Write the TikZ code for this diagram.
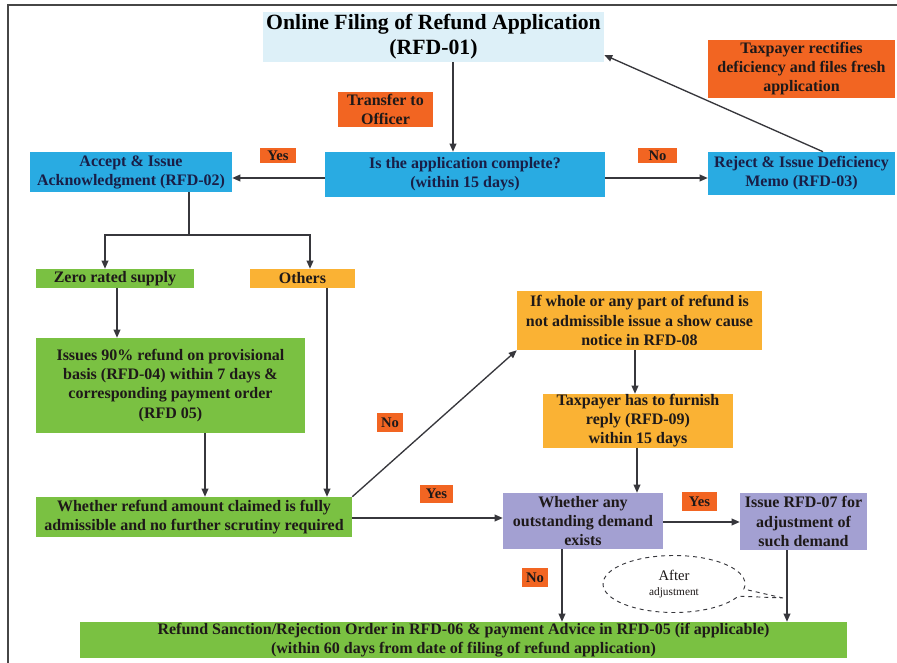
\documentclass[tikz,border=0pt]{standalone}
\usepackage{fontspec}
\setmainfont{Liberation Serif}
\usetikzlibrary{arrows.meta,shapes.callouts}
\definecolor{titlebg}{RGB}{221,240,248}
\definecolor{bluebox}{RGB}{41,171,226}
\definecolor{orangebox}{RGB}{242,101,34}
\definecolor{greenbox}{RGB}{122,193,66}
\definecolor{yellowbox}{RGB}{250,178,52}
\definecolor{purplebox}{RGB}{163,160,210}
\definecolor{linecol}{RGB}{55,55,60}
\definecolor{framecol}{RGB}{70,70,70}
\definecolor{txtdark}{RGB}{30,25,25}
\definecolor{txtnavy}{RGB}{25,30,70}
\newcommand\bodyf{\fontsize{12pt}{14.3pt}\selectfont\bfseries}
\newcommand\titlef{\fontsize{16.3pt}{18.8pt}\selectfont\bfseries}
\newcommand\labf{\fontsize{11pt}{12pt}\selectfont\bfseries}
\begin{document}
\begin{tikzpicture}[x=0.75pt,y=-0.75pt,
  pxsize/.style 2 args={minimum width=#1*0.75pt, minimum height=#2*0.75pt},
  box/.style={draw=none, inner sep=0pt, align=center, font=\bodyf, text=txtdark},
  bluenode/.style={box, fill=bluebox, text=txtnavy},
  greennode/.style={box, fill=greenbox},
  yellownode/.style={box, fill=yellowbox},
  purplenode/.style={box, fill=purplebox},
  orangenode/.style={box, fill=orangebox},
  lab/.style={box, fill=orangebox, font=\labf},
  arr/.style={draw=linecol, line width=1pt, -{Triangle[length=6pt,width=5pt]}},
  plain/.style={draw=linecol, line width=1pt}]
\useasboundingbox (0,0) rectangle (897,663);
\fill[white] (0,0) rectangle (897,663);
\draw[line width=2pt, draw=framecol] (8,663) -- (8,5) -- (897,5);

% nodes
\node[box, fill=titlebg, font=\titlef, text=black, pxsize={341}{50}] (title) at (433.5,37)
  {Online Filing of Refund Application\\(RFD-01)};
\node[orangenode, pxsize={95}{35}] (transfer) at (385.5,109.5) {Transfer to\\Officer};
\node[orangenode, pxsize={187}{58}] (rectify) at (801.5,69)
  {Taxpayer rectifies\\deficiency and files fresh\\application};
\node[bluenode, pxsize={280}{45}] (complete) at (465,174.5)
  {Is the application complete?\\(within 15 days)};
\node[bluenode, pxsize={202}{40}] (accept) at (131,172)
  {Accept \& Issue\\Acknowledgment (RFD-02)};
\node[bluenode, pxsize={187}{43}] (reject) at (801.5,173.5)
  {Reject \& Issue Deficiency\\Memo (RFD-03)};
\node[lab, pxsize={36}{15}] (yes1) at (278,155.5) {Yes};
\node[lab, pxsize={39}{15}] (no1) at (657.5,155.5) {No};
\node[greennode, pxsize={158}{19}] (zero) at (115,278.5) {Zero rated supply};
\node[yellownode, pxsize={105}{19}] (others) at (302.5,278.5) {Others};
\node[greennode, pxsize={269}{95}] (issues) at (170.5,385.5)
  {Issues 90\% refund on provisional\\basis (RFD-04) within 7 days \&\\corresponding payment order\\(RFD 05)};
\node[greennode, pxsize={316}{40}] (whether) at (194,517)
  {Whether refund amount claimed is fully\\admissible and no further scrutiny required};
\node[lab, pxsize={26}{19}] (no2) at (390,422.5) {No};
\node[yellownode, pxsize={245}{59}] (ifwhole) at (639.5,320.5)
  {If whole or any part of refund is\\not admissible issue a show cause\\notice in RFD-08};
\node[yellownode, pxsize={190}{54}] (furnish) at (638,421)
  {Taxpayer has to furnish\\reply (RFD-09)\\within 15 days};
\node[lab, pxsize={33}{18}] (yes2) at (436.5,494) {Yes};
\node[purplenode, pxsize={160}{56}] (any) at (583,521)
  {Whether any\\outstanding demand\\exists};
\node[lab, pxsize={35}{19}] (yes3) at (699.5,501.5) {Yes};
\node[purplenode, pxsize={127}{57}] (rfd07) at (803.5,521.5)
  {Issue RFD-07 for\\adjustment of\\such demand};
\node[lab, pxsize={26}{19}] (no3) at (535,577.5) {No};
\node[greennode, pxsize={767}{36}] (final) at (463.5,640)
  {Refund Sanction/Rejection Order in RFD-06 \& payment Advice in RFD-05 (if applicable)\\(within 60 days from date of filing of refund application)};
\node[ellipse callout, draw=linecol, dashed, fill=white, line width=0.7pt,
  pxsize={142}{57}, inner sep=0pt, align=center, text=txtdark,
  callout absolute pointer={(783,598)}] (after) at (674,584)
  {\fontsize{11pt}{12pt}\selectfont After\\[-1pt]\fontsize{8.5pt}{10pt}\selectfont adjustment};

% connectors
\draw[arr] (title.south -| 453,0) -- (complete.north -| 453,0);
\draw[arr] (complete.west |- 0,178) -- (accept.east |- 0,178);
\draw[arr] (complete.east |- 0,178) -- (reject.west |- 0,178);
\draw[arr] (reject.north -| 823,0) -- (title.east |- 0,55);
\coordinate (split) at (189,235);
\draw[plain] (accept.south -| split) -- (split);
\draw[arr] (split) -| (zero.north -| 105,0);
\draw[arr] (split) -| (others.north -| 310,0);
\draw[arr] (zero.south -| 117,0) -- (issues.north -| 117,0);
\draw[arr] (issues.south -| 205,0) -- (whether.north -| 205,0);
\draw[arr] (others.south -| 327,0) -- (whether.north -| 327,0);
\draw[arr] (whether.north east) -- (ifwhole.south west);
\draw[arr] (whether.east |- 0,518) -- (any.west |- 0,518);
\draw[arr] (ifwhole.south -| 635,0) -- (furnish.north -| 635,0);
\draw[arr] (furnish.south -| 637,0) -- (any.north -| 637,0);
\draw[arr] (any.east |- 0,522) -- (rfd07.west |- 0,522);
\draw[arr] (any.south -| 562,0) -- (final.north -| 562,0);
\draw[arr] (rfd07.south -| 787,0) -- (final.north -| 787,0);
\end{tikzpicture}
\end{document}
